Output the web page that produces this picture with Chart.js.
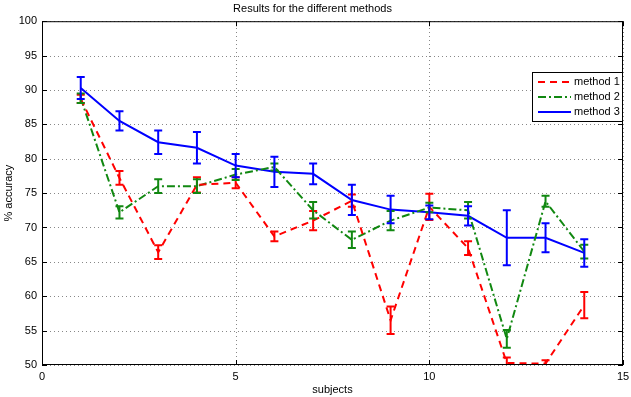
<!DOCTYPE html>
<html>
<head>
<meta charset="utf-8">
<script src="https://cdn.jsdelivr.net/npm/chart.js@4"></script>
<style>
  html, body { margin: 0; padding: 0; background: #fff; }
  #wrap { width: 631px; height: 397px; }
</style>
</head>
<body>
<div id="wrap"><canvas id="chart"></canvas></div>
<script>
// Data
const subjects = [1, 2, 3, 4, 5, 6, 7, 8, 9, 10, 11, 12, 13, 14];
const method1 = [88.7, 77.2, 66.4, 76.2, 76.5, 68.7, 71.0, 73.9, 56.5, 73.0, 67.0, 50.3, 50.2, 58.7];
const method1Err = [0.6, 1.0, 1.0, 1.1, 0.8, 0.7, 1.4, 0.9, 2.0, 1.9, 1.0, 0.8, 0.5, 1.9];
const method2 = [88.8, 72.2, 76.0, 76.0, 77.7, 78.8, 72.5, 68.2, 71.0, 72.9, 72.5, 53.8, 73.8, 66.5];
const method2Err = [0.7, 0.9, 1.0, 1.0, 0.8, 0.5, 1.2, 1.2, 1.4, 0.7, 1.2, 1.3, 0.8, 1.0];
const method3 = [90.3, 85.5, 82.4, 81.6, 79.0, 78.1, 77.8, 74.0, 72.6, 72.2, 71.7, 68.5, 68.5, 66.3];
const method3Err = [1.6, 1.4, 1.7, 2.3, 1.7, 2.2, 1.5, 2.2, 2.0, 1.0, 1.4, 4.0, 2.1, 2.0];
const xTicks = [0, 5, 10, 15];
const yTicks = [50, 55, 60, 65, 70, 75, 80, 85, 90, 95, 100];

const FONT = 'Liberation Sans, Arial, sans-serif';

function points(values) {
    return values.map((v, i) => ({ x: subjects[i], y: v }));
}

// Dotted grid, error bars, box outline, inner ticks and legend box
const matlabPlugin = {
    id: 'matlab',
    beforeDatasetsDraw(chart) {
        const { ctx, chartArea: a, scales: { x, y } } = chart;
        ctx.save();
        ctx.strokeStyle = '#888';
        ctx.lineWidth = 1;
        ctx.setLineDash([1, 3]);
        ctx.beginPath();
        xTicks.forEach(t => {
            const px = Math.round(x.getPixelForValue(t)) + 0.5;
            ctx.moveTo(px, a.bottom); ctx.lineTo(px, a.top);
        });
        yTicks.forEach(t => {
            const py = Math.round(y.getPixelForValue(t)) + 0.5;
            ctx.moveTo(a.left, py); ctx.lineTo(a.right, py);
        });
        ctx.stroke();
        ctx.restore();
    },
    afterDatasetsDraw(chart) {
        const { ctx, chartArea: a, scales: { x, y } } = chart;
        ctx.save();
        ctx.beginPath();
        ctx.rect(a.left, a.top, a.right - a.left, a.bottom - a.top);
        ctx.clip();
        chart.data.datasets.forEach(ds => {
            ctx.strokeStyle = ds.borderColor;
            ctx.lineWidth = 2;
            ctx.setLineDash([]);
            ds.errors.forEach((e, i) => {
                const px = x.getPixelForValue(subjects[i]);
                const top = y.getPixelForValue(ds.values[i] + e);
                const bot = y.getPixelForValue(ds.values[i] - e);
                ctx.beginPath();
                ctx.moveTo(px, top); ctx.lineTo(px, bot);
                ctx.moveTo(px - 4, top); ctx.lineTo(px + 4, top);
                ctx.moveTo(px - 4, bot); ctx.lineTo(px + 4, bot);
                ctx.stroke();
            });
        });
        ctx.restore();

        ctx.save();
        ctx.strokeStyle = '#000';
        ctx.lineWidth = 1;
        ctx.strokeRect(a.left + 0.5, a.top + 0.5, a.right - a.left - 1, a.bottom - a.top - 1);
        ctx.beginPath();
        xTicks.forEach(t => {
            const px = Math.round(x.getPixelForValue(t)) + 0.5;
            ctx.moveTo(px, a.bottom); ctx.lineTo(px, a.bottom - 5);
            ctx.moveTo(px, a.top); ctx.lineTo(px, a.top + 5);
        });
        yTicks.forEach(t => {
            const py = Math.round(y.getPixelForValue(t)) + 0.5;
            ctx.moveTo(a.left, py); ctx.lineTo(a.left + 5, py);
            ctx.moveTo(a.right, py); ctx.lineTo(a.right - 5, py);
        });
        ctx.stroke();

        // legend
        const lx = 532, ly = 72, lw = 90, lh = 49;
        ctx.fillStyle = '#fff';
        ctx.fillRect(lx, ly, lw, lh);
        ctx.strokeRect(lx + 0.5, ly + 0.5, lw, lh);
        ctx.font = '11px ' + FONT;
        ctx.textBaseline = 'middle';
        chart.data.datasets.forEach((ds, i) => {
            const yy = ly + 10 + i * 15;
            ctx.strokeStyle = ds.borderColor;
            ctx.lineWidth = 2;
            ctx.setLineDash(ds.borderDash || []);
            ctx.beginPath();
            ctx.moveTo(lx + 6, yy); ctx.lineTo(lx + 39, yy);
            ctx.stroke();
            ctx.fillStyle = '#000';
            ctx.fillText(ds.label, lx + 42, yy);
        });
        ctx.restore();
    }
};

new Chart(document.getElementById('chart'), {
    type: 'line',
    data: {
        datasets: [
            { label: 'method 1', data: points(method1), values: method1, errors: method1Err,
              borderColor: '#ff0000', borderDash: [7, 5], borderWidth: 2, pointRadius: 0, tension: 0 },
            { label: 'method 2', data: points(method2), values: method2, errors: method2Err,
              borderColor: '#118811', borderDash: [8, 3, 2, 3], borderWidth: 2, pointRadius: 0, tension: 0 },
            { label: 'method 3', data: points(method3), values: method3, errors: method3Err,
              borderColor: '#0000ff', borderWidth: 2, pointRadius: 0, tension: 0 }
        ]
    },
    options: {
        responsive: true,
        maintainAspectRatio: false,
        animation: false,
        layout: { padding: { right: 8, left: 2, top: 0, bottom: 0 } },
        plugins: {
            legend: { display: false },
            tooltip: { enabled: false },
            title: {
                display: true,
                text: 'Results for the different methods',
                color: '#000',
                font: { family: FONT, size: 11, weight: 'normal' },
                padding: { top: 2, bottom: 6 }
            }
        },
        scales: {
            x: {
                type: 'linear',
                min: 0, max: 15,
                afterBuildTicks: s => { s.ticks = xTicks.map(v => ({ value: v })); },
                afterFit: s => { s.height = 32; s.paddingLeft = 0; s.paddingRight = 0; },
                ticks: { color: '#000', font: { family: FONT, size: 11 }, padding: 5, maxRotation: 0 },
                grid: { display: false, drawTicks: false },
                border: { display: false },
                title: { display: true, text: 'subjects', color: '#000',
                         font: { family: FONT, size: 11 }, padding: { top: 0, bottom: 0 } }
            },
            y: {
                min: 50, max: 100,
                afterBuildTicks: s => { s.ticks = yTicks.map(v => ({ value: v })); },
                afterFit: s => { s.width = 40; },
                ticks: { color: '#000', font: { family: FONT, size: 11 }, padding: 5 },
                grid: { display: false, drawTicks: false },
                border: { display: false },
                title: { display: true, text: '% accuracy', color: '#000',
                         font: { family: FONT, size: 11 }, padding: { top: 0, bottom: 0 } }
            }
        }
    },
    plugins: [matlabPlugin]
});
</script>
</body>
</html>
